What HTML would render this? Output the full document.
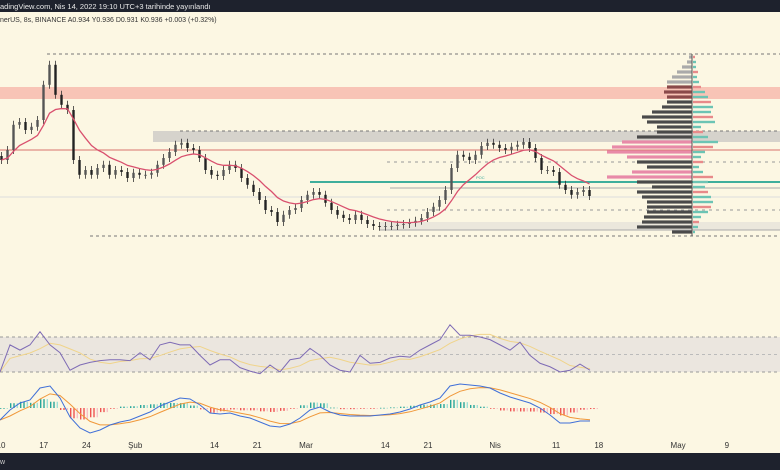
<!DOCTYPE html>
<html><head><meta charset="utf-8">
<style>
html,body{margin:0;padding:0;background:#fcf7e3;}
svg{display:block;font-family:"Liberation Sans",sans-serif;}
</style></head>
<body>
<svg id="chart" width="780" height="470" viewBox="0 0 780 470" xmlns="http://www.w3.org/2000/svg">
  <rect x="0" y="0" width="780" height="470" fill="#fcf7e3"/>
  <rect x="0" y="0" width="780" height="12" fill="#1e222d"/>
  <text x="0" y="9" font-size="7.5" fill="#e8e8e8">adingView.com, Nis 14, 2022 19:10 UTC+3 tarihinde yayınlandı</text>
  <text x="0" y="22" font-size="7" fill="#333">nerUS, 8s, BINANCE  A0.934  Y0.936  D0.931  K0.936  +0.003 (+0.32%)</text>
  <rect x="0" y="453" width="780" height="17" fill="#1e222d"/>
  <text x="0" y="464" font-size="7" fill="#ccc">w</text>

  <rect x="0" y="87" width="780" height="12" fill="#f8c4b6"/>
  <rect x="153" y="131" width="627" height="11" fill="#d6d3cc"/>
  <rect x="380" y="222" width="400" height="8" fill="#ebe7dc"/>
  <line x1="47" y1="54" x2="780" y2="54" stroke="#777" stroke-dasharray="3,3" stroke-width="1"/>
  <line x1="90" y1="236" x2="780" y2="236" stroke="#777" stroke-dasharray="3,3" stroke-width="1"/>
  <line x1="180" y1="131" x2="780" y2="131" stroke="#777" stroke-dasharray="3,3"/>
  <line x1="0" y1="150" x2="780" y2="150" stroke="#d9736e" stroke-width="1"/>
  <line x1="387" y1="162" x2="780" y2="162" stroke="#999" stroke-dasharray="3,4"/>
  <line x1="387" y1="210" x2="780" y2="210" stroke="#999" stroke-dasharray="3,4"/>
  <line x1="310" y1="182" x2="780" y2="182" stroke="#3fae9c" stroke-width="2"/>
  <line x1="390" y1="188" x2="780" y2="188" stroke="#aaa" stroke-width="1"/>
  <line x1="0" y1="197" x2="780" y2="197" stroke="#ddd" stroke-width="1"/>
  <line x1="380" y1="230" x2="780" y2="230" stroke="#aaa" stroke-width="1"/>
  <text x="476" y="179" font-size="4" fill="#3fae9c">POC</text>

  <g id="vp"></g>
  <line x1="692" y1="54" x2="692" y2="236" stroke="#555" stroke-width="1"/>
  <g id="candles"></g>
  <path id="ma" fill="none" stroke="#d9506e" stroke-width="1.3"/>

  <rect x="0" y="337" width="780" height="35" fill="#ebe6df"/>
  <line x1="0" y1="337" x2="780" y2="337" stroke="#999" stroke-dasharray="3,3"/>
  <line x1="0" y1="354.5" x2="780" y2="354.5" stroke="#bbb" stroke-dasharray="3,3"/>
  <line x1="0" y1="372" x2="780" y2="372" stroke="#999" stroke-dasharray="3,3"/>
  <path id="rsiSig" fill="none" stroke="#f0d48a" stroke-width="1"/>
  <path id="rsi" fill="none" stroke="#7e6bb5" stroke-width="1"/>

  <g id="hist"></g>
  <path id="macdSig" fill="none" stroke="#f0983a" stroke-width="1"/>
  <path id="macd" fill="none" stroke="#3f6fd8" stroke-width="1"/>

  <g id="xaxis"></g>
</svg>
<script>
const closes = [1.025,1.05,1.113,1.12,1.1,1.108,1.125,1.213,1.263,1.188,1.163,1.15,1.025,0.988,1.0,0.988,1.005,1.013,0.988,1.0,0.995,0.98,0.993,0.988,0.988,0.993,1.013,1.03,1.045,1.063,1.068,1.055,1.05,1.03,1.0,0.988,0.985,1.0,1.013,1.005,0.98,0.963,0.945,0.925,0.9,0.895,0.87,0.888,0.9,0.905,0.925,0.938,0.945,0.938,0.918,0.9,0.888,0.88,0.875,0.888,0.875,0.865,0.86,0.858,0.86,0.86,0.863,0.865,0.868,0.873,0.88,0.895,0.908,0.925,0.95,1.005,1.038,1.033,1.025,1.038,1.06,1.068,1.063,1.055,1.05,1.058,1.063,1.07,1.055,1.03,1.0,1.0,0.995,0.963,0.95,0.938,0.945,0.95,0.935];
const rsiValues = [30,61,55,61,76,61,52,32,38,41,43,44,44,43,52,44,61,64,61,61,49,38,44,44,35,31,28,38,30,44,46,57,49,38,32,30,49,40,41,46,48,47,55,61,67,84,72,72,70,67,61,55,64,49,40,36,30,32,39,32];
const macdValues = [-0.012,-0.002,0.005,0.008,0.020,0.022,0.010,-0.009,-0.020,-0.025,-0.022,-0.017,-0.014,-0.012,-0.008,-0.004,0.002,0.006,0.010,0.009,0.003,-0.005,-0.006,-0.005,-0.008,-0.010,-0.014,-0.018,-0.019,-0.016,-0.010,-0.002,0.001,-0.004,-0.007,-0.008,-0.008,-0.008,-0.007,-0.006,-0.004,-0.001,0.003,0.006,0.010,0.022,0.024,0.023,0.022,0.020,0.015,0.011,0.008,0.005,0.000,-0.007,-0.015,-0.015,-0.013,-0.013];
const vpLeft = [3,5,10,15,20,25,25,28,25,25,30,40,50,45,35,35,55,70,80,85,65,55,45,60,85,55,40,55,50,45,45,45,48,50,55,20];
const vpRight = [2,3,3,5,4,6,8,12,15,18,20,18,20,22,8,10,15,25,20,12,8,10,6,10,20,15,12,15,18,20,18,15,8,6,5,2];
const dateLabels = ["10","17","24","Şub","14","21","Mar","14","21","Nis","11","18","May","9"];
const dateDays = [0,7,14,22,35,42,50,63,70,81,91,98,111,119];

const NS="http://www.w3.org/2000/svg";
const px = i => i*6;
const py = p => (1.425 - p)*400;
const rx = i => i*10;
const ry = v => 354.5 - (v-50)*0.875;
const my = v => 408 - v*1000;
const dx = d => 1 + d*6.1;
function mk(tag, attrs, parent){const e=document.createElementNS(NS,tag);for(const k in attrs)e.setAttribute(k,attrs[k]);parent.appendChild(e);return e;}

const cg=document.getElementById('candles');
closes.forEach((c,i)=>{
  const o = i? closes[i-1] : c+0.01;
  const yo=py(o), yc=py(c);
  const top=Math.min(yo,yc), bot=Math.max(yo,yc);
  const w = mk('line',{x1:px(i)+1.5,x2:px(i)+1.5,y1:top-4,y2:bot+4,stroke:'#333','stroke-width':0.8},cg);
  
  
  const b = mk('rect',{x:px(i)+0.3,y:top,width:2.4,height:Math.max(1,bot-top),fill:c>=o?'#555':'#222'},cg);
  
  
});
let e=closes[0], pts=[];
closes.forEach((c,i)=>{e=e+(c-e)*2/10;pts.push((px(i)+1.5)+','+py(e));});
document.getElementById('ma').setAttribute('d','M'+pts.join('L'));

const vg=document.getElementById('vp');
vpLeft.forEach((v,i)=>{
  const y=57+i*5;
  let col = i<6 ? '#aaa' : (i>=6&&i<=8 ? '#8a4a4a' : ((i>=17&&i<=20)||(i>=23&&i<=24) ? '#e88aa8' : '#4a4a4a'));
  const r=mk('rect',{x:692-v,y:y-1.6,width:v,height:3.2,fill:col},vg);
  
  
  const r2=mk('rect',{x:693,y:y-1.2,width:vpRight[i],height:2.4,fill:(i%3===0?'#e88a8a':'#6cc4b4')},vg);
  
  
});

document.getElementById('rsi').setAttribute('d','M'+rsiValues.map((v,i)=>rx(i)+','+ry(v)).join('L'));
const sig=rsiValues.map((v,i)=>{const s=rsiValues.slice(Math.max(0,i-4),i+1);return s.reduce((a,b)=>a+b,0)/s.length;});
document.getElementById('rsiSig').setAttribute('d','M'+sig.map((v,i)=>rx(i)+','+ry(v)).join('L'));

let s=macdValues[0]; const ms=[];
macdValues.forEach(v=>{s=s+(v-s)*2/5;ms.push(s);});
document.getElementById('macd').setAttribute('d','M'+macdValues.map((v,i)=>rx(i)+','+my(v)).join('L'));
document.getElementById('macdSig').setAttribute('d','M'+ms.map((v,i)=>rx(i)+','+my(v)).join('L'));
const hg=document.getElementById('hist');
macdValues.forEach((v,i)=>{
  const h=(v-ms[i])*0.8;
  for(let k=0;k<3;k++){
    const x=rx(i)+k*3.3;
    const y0=my(0), y1=408-h*1000;
    const col = h>=0 ? (k===2?'#9fe0d6':'#26a69a') : (k===2?'#f7c0c8':'#ef5350');
    const r=mk('rect',{x:x,y:Math.min(y0,y1),width:1.4,height:Math.max(0.8,Math.abs(y1-y0)),fill:col},hg);
    
    
  }
});

const xg=document.getElementById('xaxis');
dateLabels.forEach((l,i)=>{
  const t=mk('text',{x:dx(dateDays[i]),y:448,'font-size':8,fill:'#333','text-anchor':'middle'},xg);
  t.textContent=l;
  
  
});
</script>
</body></html>
